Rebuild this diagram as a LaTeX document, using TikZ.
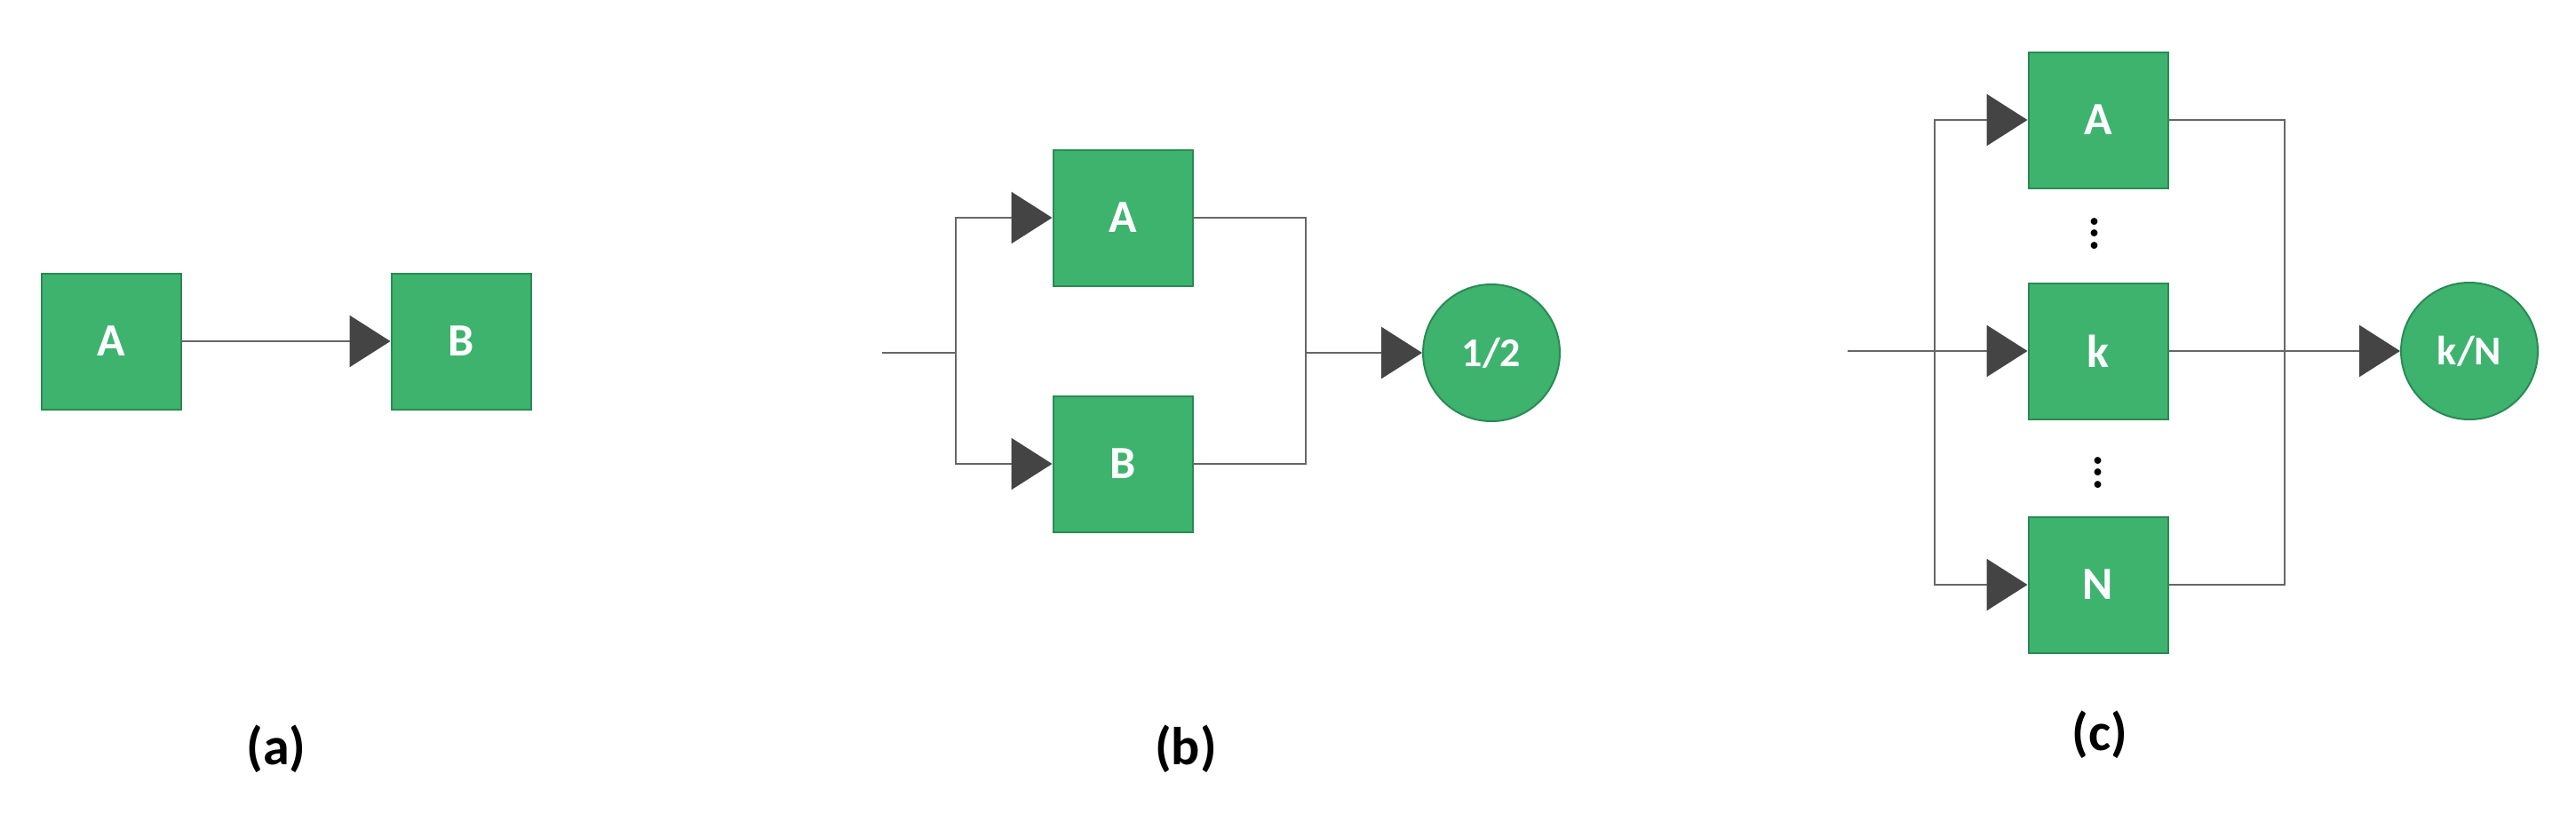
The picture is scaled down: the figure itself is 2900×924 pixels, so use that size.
\documentclass[tikz,border=0pt]{standalone}
\usepackage{fontspec}
\setmainfont{Carlito}
\usetikzlibrary{arrows.meta}
\definecolor{gr}{HTML}{3DB36E}
\definecolor{grd}{HTML}{2A8A55}
\definecolor{ln}{HTML}{666666}
\definecolor{tip}{HTML}{444444}
\begin{document}
\begin{tikzpicture}[x=1pt,y=-1pt,
  box/.style={draw=grd,line width=2pt,fill=gr,minimum width=157pt,minimum height=153pt,inner sep=0pt,text=white,font=\fontsize{52}{60}\selectfont\bfseries},
  circ/.style={circle,draw=grd,line width=2pt,fill=gr,minimum size=154pt,inner sep=0pt,text=white,font=\fontsize{46}{52}\selectfont\bfseries},
  wire/.style={draw=ln,line width=2.5pt},
  arr/.style={wire,-{Triangle[length=46pt,width=58pt,color=tip]}},
  lab/.style={font=\fontsize{60}{66}\selectfont\bfseries},
  dots/.style={font=\fontsize{52}{60}\selectfont\bfseries}]
\useasboundingbox (0,0) rectangle (2900,924);
% (a)
\node[box] (aA) at (125,384) {A};
\node[box] (aB) at (519,384) {B};
\draw[arr] (aA) -- (aB);
\node[lab] (la) at (311,843) {(a)};
% (b)
\node[box] (bA) at (1264,245) {A};
\node[box] (bB) at (1264,522) {B};
\node[circ] (bC) at (1679,397) {1/2};
\coordinate (bin) at (993,397);
\coordinate (bl) at (1076,397);
\coordinate (br) at (1470,397);
\draw[wire] (bin) -- (bl);
\draw[arr] (bl) |- (bA.west);
\draw[arr] (bl) |- (bB.west);
\draw[wire] (bA.east) -| (br);
\draw[wire] (bB.east) -| (br);
\draw[arr] (br) -- (bC);
\node[lab] (lb) at (1335,843) {(b)};
% (c)
\node[box] (cA) at (2362,135) {A};
\node[box] (ck) at (2362,395) {k};
\node[box] (cN) at (2362,658) {N};
\node[circ] (cC) at (2780,395) {k/N};
\node[dots] (d1) at (2358,263) {\rotatebox{90}{...}};
\node[dots] (d2) at (2362,532) {\rotatebox{90}{...}};
\coordinate (cin) at (2080,395);
\coordinate (cl) at (2178,395);
\coordinate (cr) at (2572,395);
\draw[wire] (cin) -- (cl);
\draw[arr] (cl) -- (ck.west);
\draw[arr] (cl) |- (cA.west);
\draw[arr] (cl) |- (cN.west);
\draw[wire] (cA.east) -| (cr);
\draw[wire] (cN.east) -| (cr);
\draw[wire] (ck.east) -- (cr);
\draw[arr] (cr) -- (cC);
\node[lab] (lc) at (2364,827) {(c)};
\end{tikzpicture}
\end{document}
